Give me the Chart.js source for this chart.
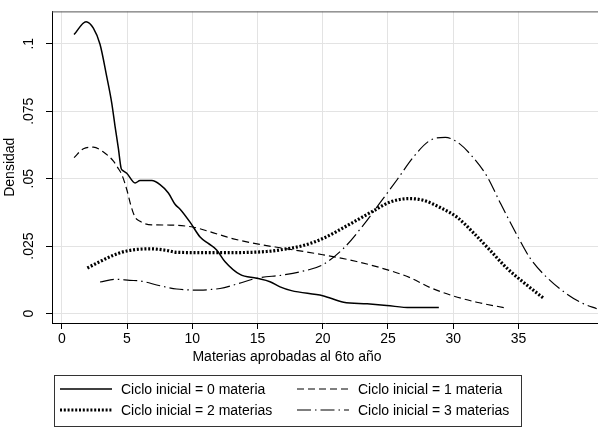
<!DOCTYPE html>
<html>
<head>
<meta charset="utf-8">
<script src="https://cdn.jsdelivr.net/npm/chart.js@4"></script>
<style>
  html, body { margin: 0; padding: 0; background: #fff; }
</style>
</head>
<body>
<canvas id="myChart" width="598" height="428"></canvas>
<script>
// curves (x = materias, y = densidad)
var s0x = [0.94, 1.86, 2.42, 2.93, 3.45, 3.83, 4.08, 4.34, 4.55, 4.68, 4.98, 5.62, 6.0, 6.9, 7.53, 8.17, 8.68, 9.07, 9.83, 10.6, 11.23, 11.87, 12.5, 13.66, 14.94, 15.96, 16.73, 17.6, 20.0, 21.6, 23.4, 24.9, 26.7, 28.9];
var s0y = [0.1034, 0.1082, 0.1058, 0.0998, 0.0877, 0.078, 0.0695, 0.0611, 0.0538, 0.053, 0.052, 0.0484, 0.0493, 0.0493, 0.0478, 0.0447, 0.0405, 0.0387, 0.0339, 0.0284, 0.026, 0.0236, 0.0193, 0.0145, 0.0131, 0.0118, 0.0099, 0.0085, 0.0066, 0.0042, 0.0036, 0.003, 0.0022, 0.0022];

var s1x = [0.94, 1.66, 2.42, 3.19, 3.96, 4.3, 4.6, 4.98, 5.3, 5.62, 6.0, 6.26, 6.9, 8.3, 10.1, 11.37, 12.64, 13.15, 15.2, 16.98, 20.0, 22.6, 24.9, 26.7, 28.2, 29.96, 31.8, 33.9];
var s1y = [0.0578, 0.0611, 0.0617, 0.0599, 0.0565, 0.054, 0.0515, 0.046, 0.04, 0.0357, 0.0342, 0.0335, 0.0329, 0.0328, 0.032, 0.0303, 0.0284, 0.0277, 0.0256, 0.0242, 0.0218, 0.0193, 0.0163, 0.0133, 0.0097, 0.0066, 0.0042, 0.0022];

var s2x = [1.96, 2.93, 3.95, 4.98, 6.77, 8.05, 8.8, 10.6, 13.15, 15.7, 16.73, 18.5, 20.0, 22.1, 23.9, 25.2, 26.6, 27.7, 29.0, 30.3, 31.5, 32.8, 34.1, 35.4, 36.9];
var s2y = [0.0169, 0.0193, 0.0216, 0.0232, 0.024, 0.0234, 0.0227, 0.0226, 0.0226, 0.023, 0.0236, 0.0252, 0.0278, 0.0332, 0.0381, 0.0414, 0.0426, 0.042, 0.0393, 0.0357, 0.0302, 0.0236, 0.0169, 0.0115, 0.0058];

var s3x = [2.93, 4.21, 5.2, 5.99, 7.53, 8.8, 10.6, 11.4, 12.13, 13.4, 14.94, 16.98, 18.3, 20.0, 21.6, 23.1, 24.4, 25.7, 26.95, 28.2, 29.4, 30.5, 31.5, 32.6, 33.6, 34.9, 35.9, 37.2, 38.7, 40.0, 41.0];
var s3y = [0.0117, 0.0127, 0.0123, 0.0121, 0.0103, 0.0091, 0.0087, 0.0089, 0.0093, 0.0109, 0.0131, 0.0143, 0.0155, 0.0181, 0.0242, 0.0327, 0.0411, 0.0496, 0.058, 0.0641, 0.0653, 0.0629, 0.058, 0.0508, 0.0411, 0.029, 0.0205, 0.0133, 0.0073, 0.0036, 0.0018];

var seriesNames = ['Ciclo inicial = 0 materia', 'Ciclo inicial = 1 materia', 'Ciclo inicial = 2 materias', 'Ciclo inicial = 3 materias'];
var xTitle = 'Materias aprobadas al 6to año';
var yTitle = 'Densidad';

var xTicks = [0, 5, 10, 15, 20, 25, 30, 35];
var yTicks = [0, 0.025, 0.05, 0.075, 0.1];
var yTickLabels = ['0', '.025', '.05', '.075', '.1'];

var fontFam = "'Liberation Sans', Arial, sans-serif";

function pts(xs, ys) {
    var out = [];
    for (var i = 0; i < xs.length; i++) {
        out.push({ x: xs[i], y: ys[i] });
    }
    return out;
}

// Stata style box legend under the plot, x title centred on the graph, top frame line
var boxLegend = {
    id: 'boxLegend',
    afterDraw: function (chart) {
        var ctx = chart.ctx;
        var area = chart.chartArea;
        ctx.save();
        ctx.strokeStyle = '#555';
        ctx.lineWidth = 1;
        ctx.beginPath();
        ctx.moveTo(area.left, area.top + 0.5);
        ctx.lineTo(area.right, area.top + 0.5);
        ctx.stroke();

        ctx.font = '14px ' + fontFam;
        ctx.fillStyle = '#000';
        ctx.textAlign = 'center';
        ctx.textBaseline = 'middle';
        ctx.fillText(xTitle, 287, 357);

        ctx.strokeStyle = '#333';
        ctx.strokeRect(54.5, 375.5, 467, 51);

        ctx.textAlign = 'left';
        chart.data.datasets.forEach(function (ds, i) {
            var col = i % 2, row = Math.floor(i / 2);
            var x0 = col ? 297 : 60;
            var y = row ? 410 : 389;
            ctx.strokeStyle = ds.borderColor;
            ctx.lineWidth = ds.borderWidth;
            ctx.setLineDash(ds.borderDash || []);
            ctx.beginPath();
            ctx.moveTo(x0, y);
            ctx.lineTo(x0 + 52, y);
            ctx.stroke();
            ctx.setLineDash([]);
            ctx.fillText(ds.label, x0 + 61, y + 1);
        });
        ctx.restore();
    }
};

const ctx = document.getElementById('myChart');

new Chart(ctx, {
    type: 'line',
    data: {
        datasets: [
            { label: seriesNames[0], data: pts(s0x, s0y), borderColor: '#000', borderWidth: 1.5, borderDash: [] },
            { label: seriesNames[1], data: pts(s1x, s1y), borderColor: '#000', borderWidth: 1.2, borderDash: [7, 4] },
            { label: seriesNames[2], data: pts(s2x, s2y), borderColor: '#000', borderWidth: 3.2, borderDash: [2, 1.8] },
            { label: seriesNames[3], data: pts(s3x, s3y), borderColor: '#000', borderWidth: 1.2, borderDash: [14, 4, 1.5, 4] }
        ]
    },
    options: {
        responsive: false,
        animation: false,
        devicePixelRatio: 1,
        elements: {
            point: { radius: 0 },
            line: { cubicInterpolationMode: 'monotone', fill: false }
        },
        layout: { padding: { top: 5, left: 0, right: 0, bottom: 62 } },
        plugins: {
            legend: { display: false },
            tooltip: { enabled: false }
        },
        scales: {
            x: {
                type: 'linear',
                min: -0.75,
                max: 41.1,
                afterBuildTicks: function (s) { s.ticks = xTicks.map(function (v) { return { value: v }; }); },
                afterFit: function (s) { s.height = 43; },
                grid: { color: '#e3e3e3', tickColor: '#000', tickLength: 6 },
                border: { color: '#000', width: 1 },
                ticks: { color: '#000', font: { family: fontFam, size: 14 }, padding: 2, maxRotation: 0, autoSkip: false }
            },
            y: {
                min: -0.0035,
                max: 0.112,
                afterBuildTicks: function (s) { s.ticks = yTicks.map(function (v) { return { value: v }; }); },
                afterFit: function (s) { s.width = 52; },
                grid: { color: '#e3e3e3', tickColor: '#000', tickLength: 6 },
                border: { color: '#000', width: 1 },
                ticks: {
                    color: '#000', font: { family: fontFam, size: 14 }, autoSkip: false,
                    minRotation: 90, maxRotation: 90, crossAlign: 'center', padding: 3,
                    callback: function (v) { return yTickLabels[yTicks.indexOf(v)]; }
                },
                title: { display: true, text: yTitle, color: '#000', font: { family: fontFam, size: 14 }, padding: { top: 2, bottom: 0 } }
            }
        }
    },
    plugins: [boxLegend]
});
</script>
</body>
</html>
